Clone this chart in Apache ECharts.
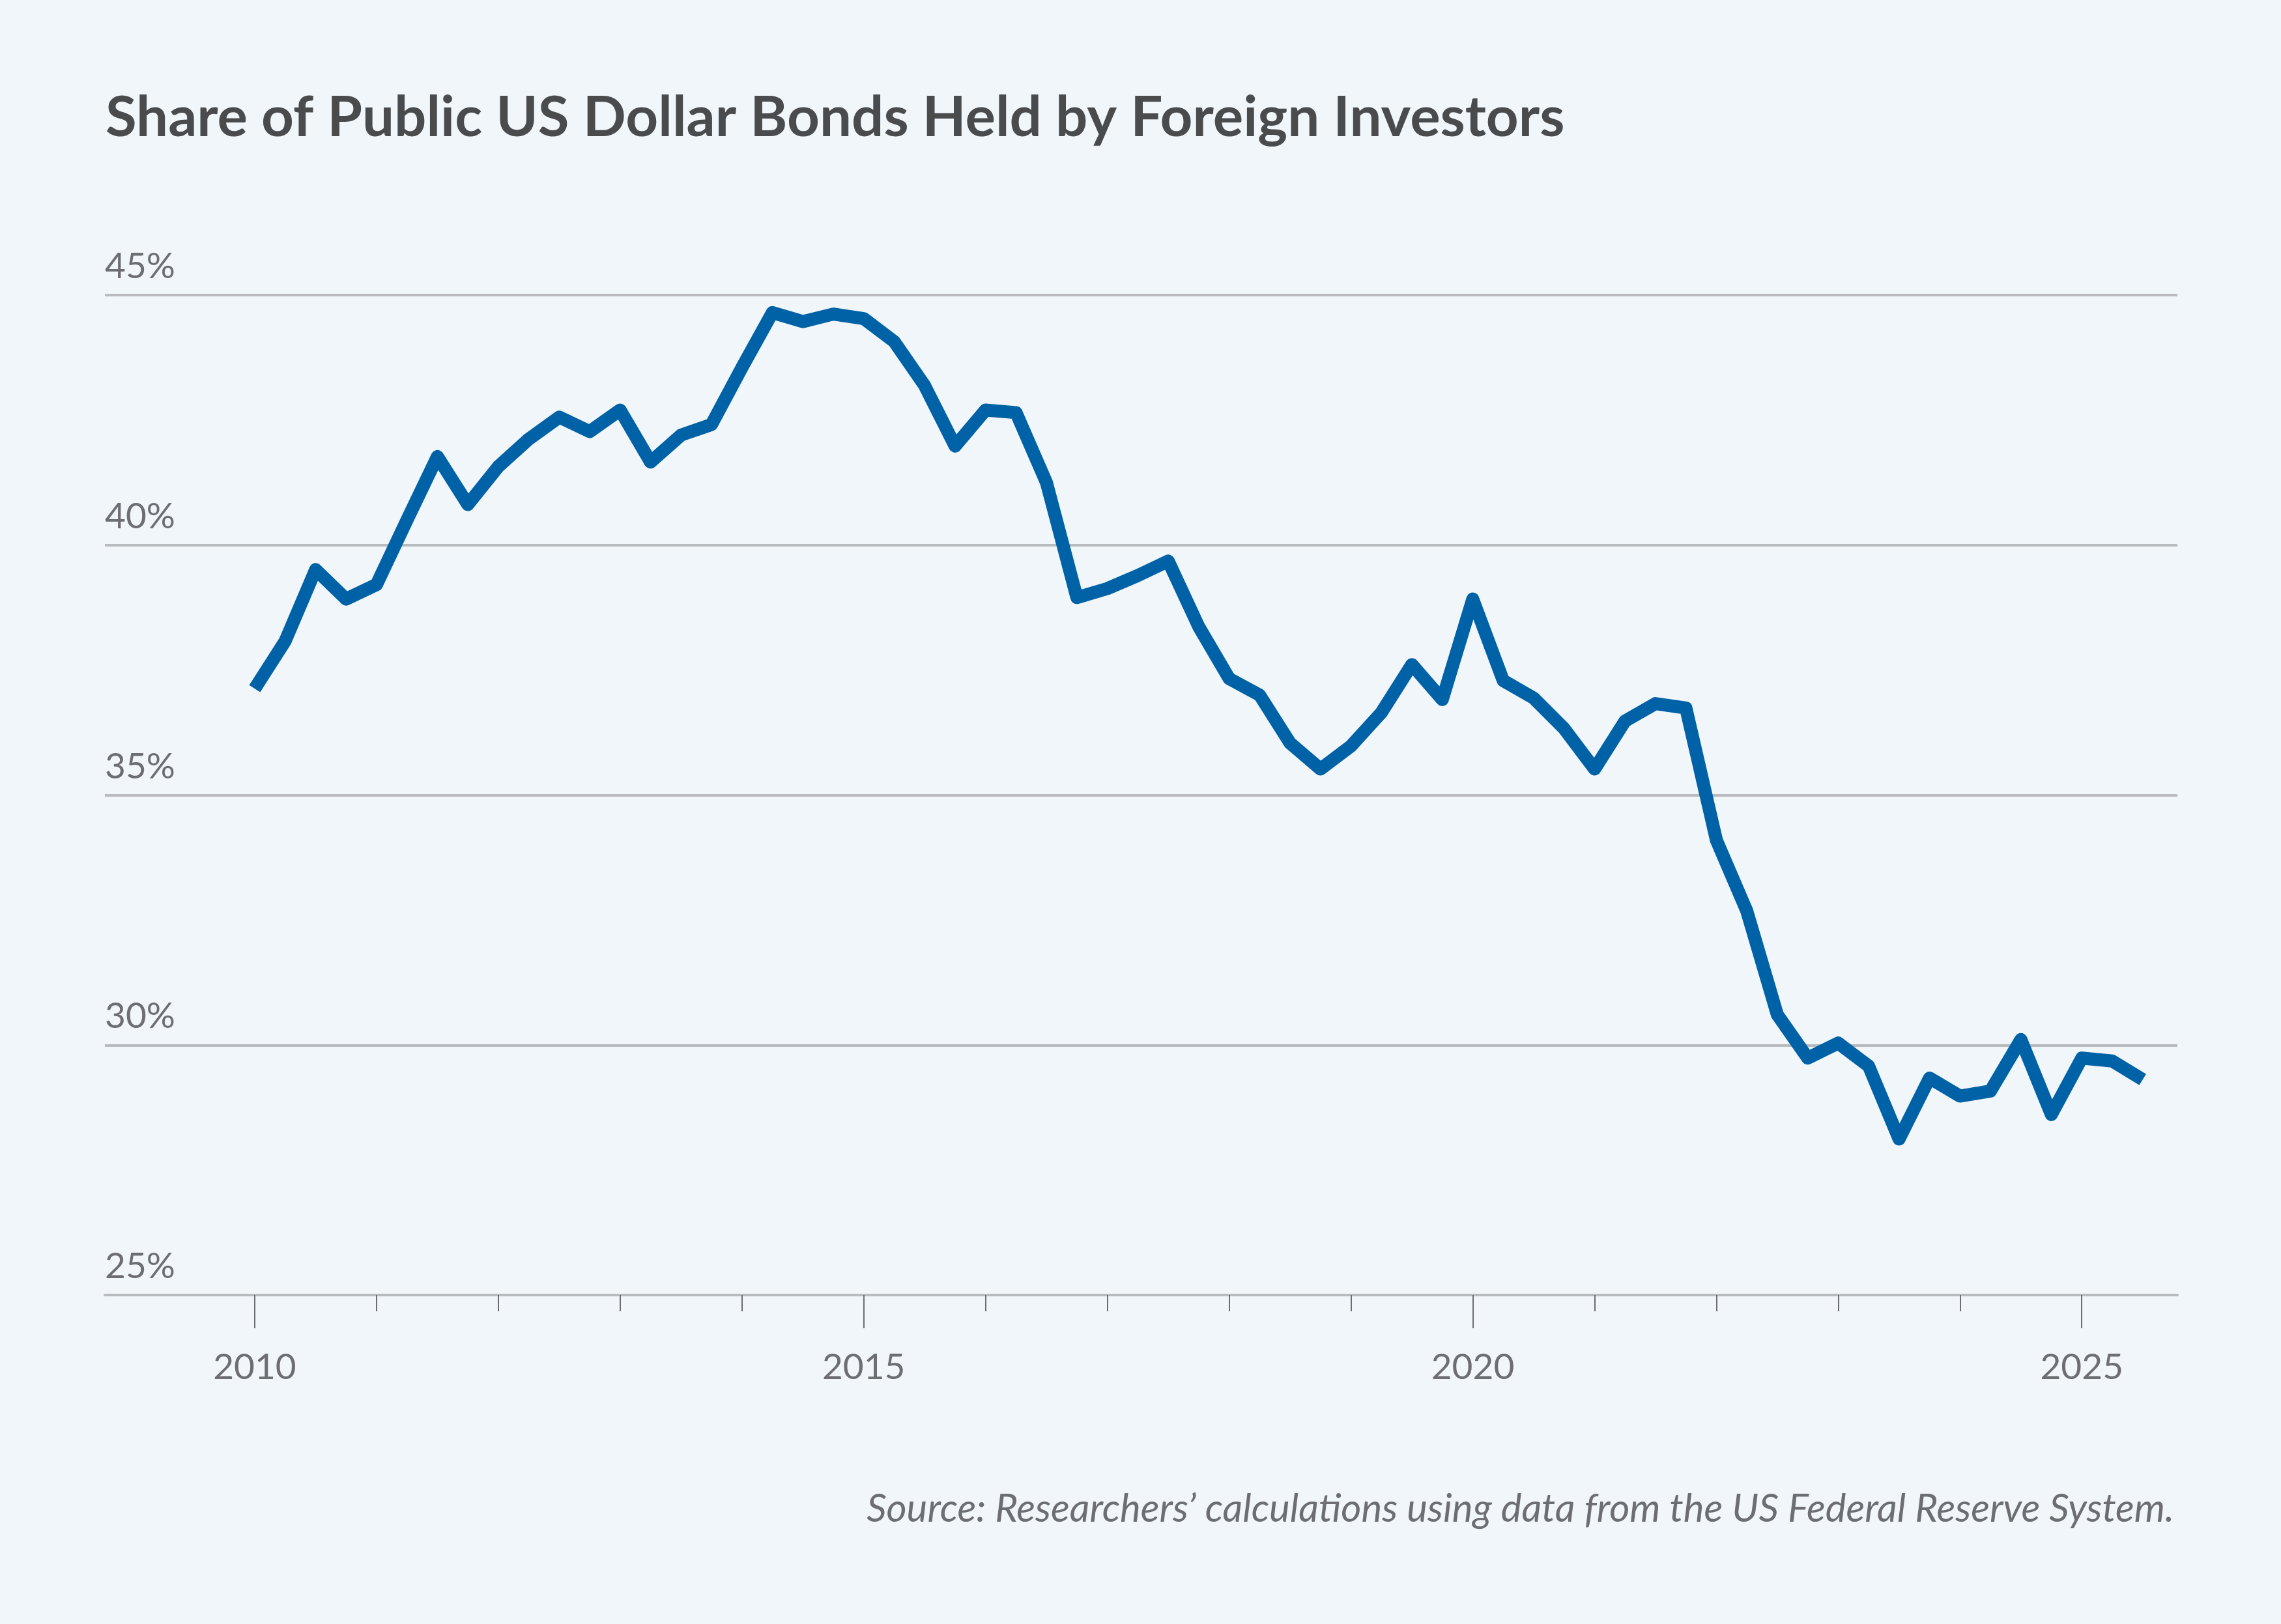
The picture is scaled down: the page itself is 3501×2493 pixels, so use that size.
<!doctype html>
<html lang="en">
<head>
    <meta charset="UTF-8">
    <title>Share of Public US Dollar Bonds Held by Foreign Investors</title>
    <script src="https://cdn.jsdelivr.net/npm/echarts@6.0.0/dist/echarts.min.js"></script>
    <style>
        html, body {
            margin: 0;
            padding: 0;
            background: #f1f6fa;
        }
        #chart {
            width: 3501px;
            height: 2493px;
        }
    </style>
</head>
<body>
<div id="chart"></div>
<script>
    // quarterly observations, decimal year (2010.0 = 2010 Q1)
    const quarters = [
        2010.00, 2010.25, 2010.50, 2010.75, 2011.00, 2011.25, 2011.50, 2011.75,
        2012.00, 2012.25, 2012.50, 2012.75, 2013.00, 2013.25, 2013.50, 2013.75,
        2014.00, 2014.25, 2014.50, 2014.75, 2015.00, 2015.25, 2015.50, 2015.75,
        2016.00, 2016.25, 2016.50, 2016.75, 2017.00, 2017.25, 2017.50, 2017.75,
        2018.00, 2018.25, 2018.50, 2018.75, 2019.00, 2019.25, 2019.50, 2019.75,
        2020.00, 2020.25, 2020.50, 2020.75, 2021.00, 2021.25, 2021.50, 2021.75,
        2022.00, 2022.25, 2022.50, 2022.75, 2023.00, 2023.25, 2023.50, 2023.75,
        2024.00, 2024.25, 2024.50, 2024.75, 2025.00, 2025.25, 2025.50
    ];

    // share held by foreign investors, %
    const foreignShare = [
        37.13, 38.08, 39.51, 38.92, 39.21, 40.50, 41.77, 40.81,
        41.57, 42.12, 42.56, 42.27, 42.70, 41.66, 42.20, 42.41,
        43.55, 44.65, 44.47, 44.62, 44.53, 44.07, 43.19, 41.98,
        42.70, 42.65, 41.25, 38.95, 39.13, 39.39, 39.68, 38.37,
        37.33, 37.00, 36.04, 35.52, 35.98, 36.65, 37.61, 36.91,
        38.92, 37.29, 36.94, 36.33, 35.52, 36.48, 36.83, 36.74,
        34.10, 32.68, 30.61, 29.74, 30.04, 29.58, 28.12, 29.34,
        28.98, 29.08, 30.11, 28.61, 29.74, 29.68, 29.31
    ];

    const yearTicks = [2010, 2011, 2012, 2013, 2014, 2015, 2016, 2017, 2018, 2019, 2020, 2021, 2022, 2023, 2024, 2025];
    const yearLabels = [2010, 2015, 2020, 2025];
    const pctTicks = [25, 30, 35, 40, 45];

    const titleText = 'Share of Public US Dollar Bonds Held by Foreign Investors';
    const sourceText = 'Source: Researchers\u2019 calculations using data from the US Federal Reserve System.';

    const font = 'Lato, "Source Sans Pro", "Noto Sans", sans-serif';
    const grey = '#6d6e71';
    const gridGrey = '#b9bbbf';

    const xMin = 2008.77;
    const xMax = 2025.785;

    const myChart = echarts.init(document.getElementById('chart'));
    const option = {
        backgroundColor: '#f1f6fa',
        animation: false,
        title: [
            {
                text: titleText,
                left: 157,
                top: 132,
                textStyle: {
                    fontFamily: font,
                    fontSize: 87,
                    fontWeight: 'bold',
                    color: '#4a4b4d'
                }
            },
            {
                text: sourceText,
                right: 159,
                top: 2282,
                textStyle: {
                    fontFamily: font,
                    fontSize: 60,
                    fontStyle: 'italic',
                    fontWeight: 'normal',
                    color: grey
                }
            }
        ],
        grid: {
            left: 161,
            right: 159,
            top: 453,
            bottom: 505,
            containLabel: false
        },
        xAxis: [
            {
                type: 'value',
                position: 'bottom',
                min: xMin,
                max: xMax,
                axisLine: {
                    show: true,
                    lineStyle: { color: gridGrey, width: 4 }
                },
                axisTick: {
                    show: true,
                    customValues: yearTicks,
                    length: 25,
                    lineStyle: { color: grey, width: 2 }
                },
                axisLabel: { show: false },
                splitLine: { show: false }
            },
            {
                type: 'value',
                position: 'bottom',
                min: xMin,
                max: xMax,
                axisLine: { show: false },
                axisTick: {
                    show: true,
                    customValues: yearLabels,
                    length: 51,
                    lineStyle: { color: grey, width: 2 }
                },
                axisLabel: {
                    show: true,
                    customValues: yearLabels,
                    formatter: (value) => String(value),
                    margin: 84,
                    fontFamily: font,
                    fontSize: 55,
                    color: grey
                },
                splitLine: { show: false }
            }
        ],
        yAxis: {
            type: 'value',
            min: 25,
            max: 45,
            interval: 5,
            axisLine: { show: false },
            axisTick: { show: false },
            axisLabel: {
                inside: true,
                margin: 0,
                verticalAlign: 'bottom',
                padding: [0, 0, 16, 0],
                formatter: (value) => pctTicks.includes(value) ? value + '%' : '',
                fontFamily: font,
                fontSize: 55,
                color: grey
            },
            splitLine: {
                show: true,
                lineStyle: { color: gridGrey, width: 4 }
            }
        },
        series: [
            {
                name: 'Foreign share',
                type: 'line',
                xAxisIndex: 0,
                data: quarters.map((q, i) => [q, foreignShare[i]]),
                symbol: 'none',
                lineStyle: {
                    color: '#0062a6',
                    width: 20,
                    join: 'round',
                    cap: 'butt'
                }
            }
        ]
    };

    myChart.setOption(option);
</script>
</body>
</html>
